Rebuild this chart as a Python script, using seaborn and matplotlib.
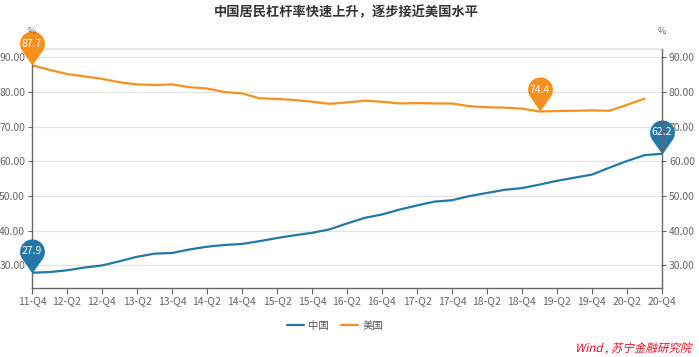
import numpy as np
import pandas as pd
import matplotlib
matplotlib.use("Agg")
import matplotlib.pyplot as plt
import seaborn as sns
from matplotlib.textpath import TextPath
from matplotlib.patches import PathPatch
from matplotlib.font_manager import FontProperties
from matplotlib.transforms import Affine2D

# ---------- данные ----------
quarters = ["11-Q4",
            "12-Q1", "12-Q2", "12-Q3", "12-Q4",
            "13-Q1", "13-Q2", "13-Q3", "13-Q4",
            "14-Q1", "14-Q2", "14-Q3", "14-Q4",
            "15-Q1", "15-Q2", "15-Q3", "15-Q4",
            "16-Q1", "16-Q2", "16-Q3", "16-Q4",
            "17-Q1", "17-Q2", "17-Q3", "17-Q4",
            "18-Q1", "18-Q2", "18-Q3", "18-Q4",
            "19-Q1", "19-Q2", "19-Q3", "19-Q4",
            "20-Q1", "20-Q2", "20-Q3", "20-Q4"]

china = [27.9, 28.1, 28.6, 29.4, 30.0, 31.2, 32.5, 33.4, 33.6, 34.6,
         35.4, 35.9, 36.2, 37.0, 37.9, 38.7, 39.4, 40.4, 42.1, 43.7,
         44.7, 46.1, 47.3, 48.4, 48.8, 50.0, 50.9, 51.8, 52.3, 53.3,
         54.4, 55.3, 56.2, 58.2, 60.1, 61.8, 62.2]

usa = [87.7, 86.4, 85.2, 84.5, 83.8, 82.8, 82.2, 82.0, 82.2, 81.4,
       81.0, 80.0, 79.6, 78.2, 78.0, 77.7, 77.2, 76.6, 77.0, 77.5,
       77.2, 76.7, 76.8, 76.7, 76.7, 75.9, 75.6, 75.5, 75.2, 74.4,
       74.5, 74.6, 74.7, 74.6, 76.3, 78.1]

series_names = ["中国", "美国"]
colors = {"中国": "#2378a8", "美国": "#f7901e"}
y_ticks = [30, 40, 50, 60, 70, 80, 90]

title = "中国居民杠杆率快速上升，逐步接近美国水平"
source = "Wind , 苏宁金融研究院"

df = pd.concat([
    pd.DataFrame({"x": range(len(china)), "value": china, "country": "中国"}),
    pd.DataFrame({"x": range(len(usa)), "value": usa, "country": "美国"}),
], ignore_index=True)

# ---------- оформление ----------
sns.set_theme(style="white")
plt.rcParams["font.family"] = ["Noto Sans CJK SC", "DejaVu Sans"]

W, H = 699, 357
fig = plt.figure(figsize=(W / 100, H / 100), dpi=100)
ax = fig.add_axes([32 / W, 1 - 288 / H, (662 - 32) / W, (288 - 49) / H])

sns.lineplot(data=df, x="x", y="value", hue="country", hue_order=series_names,
             palette=colors, linewidth=1.6, ax=ax)

ax.set_xlim(0, len(quarters) - 1)
ax.set_ylim(23.5, 92.4)
ax.set_xticks(range(0, len(quarters), 2))
ax.set_xticklabels(quarters[::2])
ax.set_yticks(y_ticks)
ax.set_yticklabels([f"{t:.2f}" for t in y_ticks])
ax.set_xlabel("")
ax.set_ylabel("")
for t in y_ticks:
    ax.axhline(t, color="#e3e3e3", lw=0.9, zorder=0)

grey = "#666666"
ax.tick_params(axis="x", colors=grey, labelsize=7.5, length=4, width=0.8,
               direction="out", bottom=True, pad=2)
ax.tick_params(axis="y", colors=grey, labelsize=7.5, length=3, width=0.8,
               direction="out", left=True, pad=2)
for side in ["left", "bottom"]:
    ax.spines[side].set_color(grey)
    ax.spines[side].set_linewidth(1.0)
ax.spines["top"].set_color("#e3e3e3")
ax.spines["right"].set_visible(False)

ax2 = ax.twinx()
ax2.set_ylim(ax.get_ylim())
ax2.set_yticks(y_ticks)
ax2.set_yticklabels([f"{t:.2f}" for t in y_ticks])
ax2.tick_params(axis="y", colors=grey, labelsize=7.5, length=3, width=0.8,
                direction="out", right=True, pad=2)
for side in ["left", "top", "bottom"]:
    ax2.spines[side].set_visible(False)
ax2.spines["right"].set_color(grey)
ax2.spines["right"].set_linewidth(1.0)
ax2.grid(False)

# ---------- пины max/min ----------
c = 1.74
phi = np.degrees(np.arccos(1 / c))
ang = np.radians(np.linspace(-90 + phi, 270 - phi, 60))
pin = np.column_stack([np.cos(ang), c + np.sin(ang)])
pin = np.vstack([[0, 0], pin, [0, 0]])
pin_ms = 49
pin_off = c * 0.5 * pin_ms / (c + 1)

for name, vals in [("中国", china), ("美国", usa)]:
    arr = np.array(vals)
    for i in [int(arr.argmax()), int(arr.argmin())]:
        ax.plot(i, arr[i], marker=pin, markersize=pin_ms, color=colors[name],
                markeredgewidth=0, clip_on=False, zorder=5)
        ax.annotate(f"{arr[i]:.1f}", xy=(i, arr[i]), xytext=(0, pin_off),
                    textcoords="offset points", ha="center", va="center",
                    color="white", fontsize=7.5, zorder=6, annotation_clip=False)

# ---------- подписи ----------
fig.text(346 / W, 1 - 12 / H, title, ha="center", va="center",
         fontsize=9.5, fontweight="bold", color="#333333")
fig.text(32 / W, 1 - 31 / H, "%", ha="center", va="center", fontsize=6.5, color=grey)
fig.text(662 / W, 1 - 32 / H, "%", ha="center", va="center", fontsize=6.5, color=grey)

# курсивная подпись источника (наклон через skew, у CJK-шрифта нет italic)
tp = TextPath((0, 0), source, size=11.5,
              prop=FontProperties(family=["Noto Sans CJK SC", "DejaVu Sans"]))
ext = tp.get_extents()
tr = Affine2D().skew_deg(14, 0).translate(693 - ext.x1 - 2, H - 352)
fig.patches.append(PathPatch(tr.transform_path(tp), facecolor="#dd1020",
                             edgecolor="none", transform=None, figure=fig))

handles, labels = ax.get_legend_handles_labels()
ax.legend(handles, labels, loc="center", bbox_to_anchor=(335 / W, 1 - 326 / H),
          bbox_transform=fig.transFigure, ncol=2, frameon=False, fontsize=7.5,
          handlelength=1.6, handletextpad=0.4, columnspacing=1.2,
          labelcolor="#555555")

fig.savefig("out.png", dpi=100, facecolor="white")
